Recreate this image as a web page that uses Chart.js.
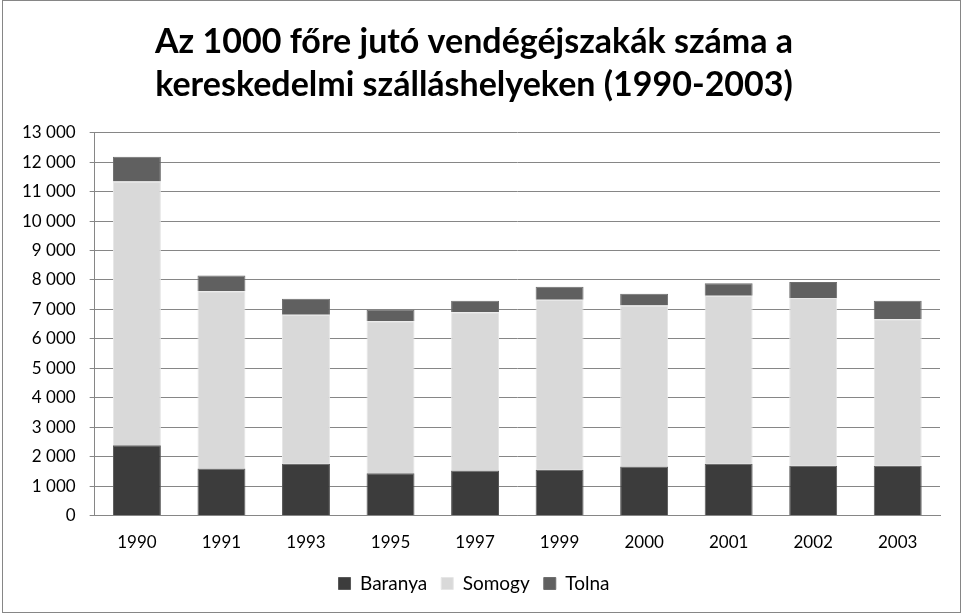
<!DOCTYPE html>
<html lang="hu">
  <head>
    <meta charset="UTF-8">
    <script src="https://cdn.jsdelivr.net/npm/chart.js@4.4.0/dist/chart.umd.min.js"></script>
    <style>
      html, body { margin: 0; padding: 0; background: #fff; }
      .chart-box {
        width: 957px;
        height: 611px;
        border: 1px solid #868686;
        margin-left: 2px;
        position: relative;
      }
    </style>
  </head>
  <body>
    <div class="chart-box">
      <canvas id="chart"></canvas>
    </div>
    <script>
      // Év / megye szerinti értékek (vendégéjszaka 1000 főre)
      const years = ['1990', '1991', '1993', '1995', '1997', '1999', '2000', '2001', '2002', '2003'];
      const baranya = [2390, 1600, 1760, 1440, 1530, 1560, 1670, 1760, 1690, 1690];
      const somogy = [8950, 6020, 5060, 5160, 5370, 5770, 5460, 5700, 5700, 4980];
      const tolna = [840, 530, 540, 390, 390, 440, 400, 430, 540, 620];
      const yTicks = [0, 1000, 2000, 3000, 4000, 5000, 6000, 7000, 8000, 9000, 10000, 11000, 12000, 13000];

      const fontFamily = "Lato, 'Open Sans', sans-serif";

      const fmt = v => String(v).replace(/\B(?=(\d{3})+(?!\d))/g, ' ');

      new Chart(document.getElementById('chart'), {
        type: 'bar',
        data: {
          labels: years,
          datasets: [
            { label: 'Baranya', data: baranya, backgroundColor: '#3c3c3c', borderColor: '#595959', borderWidth: 1 },
            { label: 'Somogy', data: somogy, backgroundColor: '#d9d9d9', borderColor: '#e6e6e6', borderWidth: 1 },
            { label: 'Tolna', data: tolna, backgroundColor: '#606060', borderColor: '#6e6e6e', borderWidth: 1 }
          ]
        },
        options: {
          responsive: true,
          maintainAspectRatio: false,
          animation: false,
          layout: { padding: { left: 5, right: 20, top: 20, bottom: 9 } },
          datasets: { bar: { categoryPercentage: 1, barPercentage: 0.567 } },
          plugins: {
            title: {
              display: true,
              text: ['Az 1000 főre jutó vendégéjszakák száma a', 'kereskedelmi szálláshelyeken (1990-2003)'],
              color: '#000',
              font: { family: fontFamily, size: 34, weight: 'bold', lineHeight: 1.26 },
              padding: { top: 0, bottom: 26 }
            },
            legend: {
              position: 'bottom',
              labels: {
                color: '#000',
                boxWidth: 12,
                boxHeight: 12,
                padding: 14,
                font: { family: fontFamily, size: 19 }
              }
            },
            tooltip: { enabled: false }
          },
          scales: {
            x: {
              stacked: true,
              grid: { display: false, drawTicks: false },
              border: { color: '#868686' },
              ticks: { color: '#000', padding: 17, font: { family: fontFamily, size: 17 } },
              afterFit: axis => { axis.height -= 10; }
            },
            y: {
              stacked: true,
              min: 0,
              max: 13000,
              afterBuildTicks: axis => { axis.ticks = yTicks.map(v => ({ value: v })); },
              grid: { color: '#868686', tickLength: 5 },
              border: { color: '#868686' },
              ticks: {
                color: '#000',
                padding: 14,
                font: { family: fontFamily, size: 17 },
                callback: v => fmt(v)
              }
            }
          }
        }
      });
    </script>
  </body>
</html>
